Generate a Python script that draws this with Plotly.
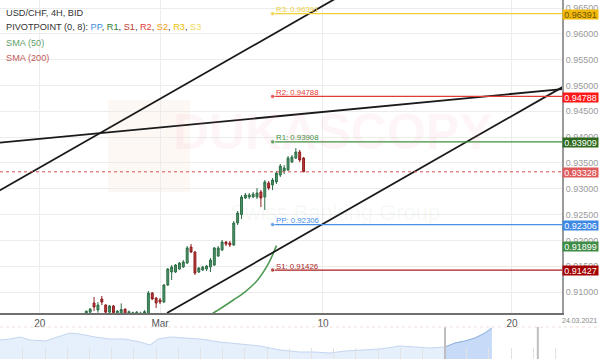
import plotly.graph_objects as go

# ---------------- data ----------------
# 4H candles, index = bar number since Mon 22 Feb 2021 00:00 (6 bars per trading day)
bar_idx = list(range(11, 68))
opens = [0.9058, 0.9061, 0.90787, 0.90652, 0.90865, 0.9075, 0.9061, 0.9073, 0.9060, 0.9058,
         0.9067, 0.9057, 0.9056, 0.9055, 0.9055, 0.9058, 0.9050, 0.90981, 0.90884, 0.90846,
         0.90807, 0.91136, 0.91388, 0.91388, 0.91446, 0.91485, 0.91562, 0.91872, 0.91775, 0.91388,
         0.91427, 0.91446, 0.91485, 0.91523, 0.91698, 0.91814, 0.91969, 0.91949, 0.91911, 0.92337,
         0.92500, 0.92821, 0.92840, 0.92840, 0.92840, 0.92937, 0.92840, 0.93111, 0.93073, 0.93131,
         0.93266, 0.93344, 0.93363, 0.93518, 0.93595, 0.93712, 0.93595]
highs = [0.9064, 0.9069, 0.90904, 0.90807, 0.90923, 0.9076, 0.9075, 0.9075, 0.9065, 0.9078,
         0.9068, 0.9064, 0.9062, 0.9063, 0.9062, 0.9065, 0.91020, 0.91000, 0.90904, 0.90884,
         0.91155, 0.91465, 0.91523, 0.91543, 0.91582, 0.91620, 0.91891, 0.91930, 0.91795, 0.91485,
         0.91504, 0.91523, 0.91659, 0.91872, 0.91891, 0.92007, 0.91988, 0.91988, 0.92375, 0.92569,
         0.92879, 0.92918, 0.92918, 0.92937, 0.93014, 0.92976, 0.93169, 0.93150, 0.93208, 0.93344,
         0.93479, 0.93460, 0.93634, 0.93653, 0.93789, 0.93750, 0.93615]
lows = [0.9055, 0.9058, 0.9063, 0.9060, 0.90748, 0.9058, 0.9058, 0.9058, 0.9057, 0.9055,
        0.9050, 0.9052, 0.9051, 0.9050, 0.9050, 0.9050, 0.9045, 0.90846, 0.90691, 0.90768,
        0.90787, 0.91117, 0.91233, 0.91368, 0.91427, 0.91465, 0.91543, 0.91756, 0.91330, 0.91368,
        0.91407, 0.91407, 0.91388, 0.91504, 0.91678, 0.91795, 0.91891, 0.91872, 0.91891, 0.92298,
        0.92414, 0.92801, 0.92801, 0.92821, 0.92801, 0.92646, 0.92589, 0.92976, 0.92976, 0.93092,
        0.93227, 0.93285, 0.93344, 0.93499, 0.93576, 0.93518, 0.93328]
closes = [0.9063, 0.9067, 0.90710, 0.90748, 0.90807, 0.9061, 0.9073, 0.9060, 0.9063, 0.9066,
          0.9055, 0.9062, 0.9060, 0.9061, 0.9059, 0.9062, 0.90981, 0.90865, 0.90787, 0.90807,
          0.91136, 0.91446, 0.91485, 0.91523, 0.91562, 0.91582, 0.91853, 0.91775, 0.91368, 0.91465,
          0.91485, 0.91504, 0.91620, 0.91853, 0.91853, 0.91969, 0.91930, 0.91911, 0.92337, 0.92530,
          0.92840, 0.92879, 0.92879, 0.92898, 0.92918, 0.92821, 0.93131, 0.93014, 0.93169, 0.93305,
          0.93440, 0.93402, 0.93595, 0.93615, 0.93712, 0.93557, 0.93328]

# SMA(50)
sma_idx = [43, 46, 49, 52, 55, 58, 60]
sma50 = [0.90560, 0.90700, 0.90850, 0.91010, 0.91220, 0.91560, 0.91899]

# Pivot points (start bar and levels)
pivot_start = 59
pivot_names = ["R3", "R2", "R1", "PP", "S1"]
pivot_vals = [0.96391, 0.94788, 0.93908, 0.92306, 0.91426]
pivot_colors = ["#f0cf3c", "#e53935", "#3f8f3f", "#4a8fe6", "#a81c1c"]

# Trend lines (two anchor points each: bar index, price)
trend_x = [[-12, 80], [-12, 134], [31.8, 134]]
trend_y = [[0.92937, 0.96887], [0.93886, 0.94932], [0.90594, 0.94980]]

# Price-axis tags
tag_vals = [0.96391, 0.94788, 0.93909, 0.93328, 0.92306, 0.91899, 0.91427]
tag_text = ["0.96391", "0.94788", "0.93909", "0.93328", "0.92306", "0.91899", "0.91427"]
tag_bg = ["#f2b90a", "#ff1a1a", "#2f6a1f", "#de5b5b", "#3d88e3", "#3f8c46", "#a30000"]
tag_fg = ["#6b5400", "white", "white", "white", "white", "white", "white"]

# x ticks
xtick_vals = [-1, 30, 72, 120.7]
xtick_text = ["20", "Mar", "10", "20"]

# navigator (weeks since start, price)
nav_x = [0, 0.45, 0.9, 1.35, 2.03, 2.7, 3.15, 3.6, 4.28, 4.95, 5.63, 6.31, 6.76, 7.12,
         7.66, 8.33, 9.01, 9.91, 10.81, 11.71, 12.61, 13.51, 14.19, 14.86, 15.54, 16.22,
         17.12, 18.02, 18.69, 19.37, 20.05, 20.5, 20.95, 21.4, 21.85, 22.16]
nav_y = [0.912, 0.914, 0.918, 0.912, 0.910, 0.920, 0.926, 0.924, 0.918, 0.914, 0.914, 0.908,
         0.902, 0.914, 0.918, 0.916, 0.914, 0.908, 0.904, 0.900, 0.892, 0.888, 0.888, 0.886,
         0.890, 0.892, 0.894, 0.900, 0.898, 0.896, 0.898, 0.906, 0.910, 0.916, 0.926, 0.936]
nav_sel = [20.05, 24.23]

# ---------------- figure ----------------
X0, X1 = -11.24, 133.6
Y0, Y1 = 0.90594, 0.96655
H = 359
main_dom = [1 - 313 / H, 1]
nav_dom = [0, 32 / H]

fig = go.Figure()

fig.add_trace(go.Candlestick(
    x=bar_idx, open=opens, high=highs, low=lows, close=closes,
    increasing=dict(line=dict(color="#2f6e47", width=1), fillcolor="#4a9468"),
    decreasing=dict(line=dict(color="#8f1f1f", width=1), fillcolor="#b83a3a"),
    whiskerwidth=0, hoverinfo="skip", xaxis="x", yaxis="y"))

fig.add_trace(go.Scatter(x=sma_idx, y=sma50, mode="lines", line=dict(color="#4f9a55", width=1.6),
                         line_shape="spline", hoverinfo="skip"))

for tx, ty in zip(trend_x, trend_y):
    fig.add_trace(go.Scatter(x=tx, y=ty, mode="lines", line=dict(color="#1a1a1a", width=1.8),
                             hoverinfo="skip"))

for name, v, col in zip(pivot_names, pivot_vals, pivot_colors):
    fig.add_trace(go.Scatter(x=[pivot_start, X1 + 5], y=[v, v], mode="lines+markers",
                             line=dict(color=col, width=1.2),
                             marker=dict(size=[4.5, 0], color=col), hoverinfo="skip"))
    fig.add_annotation(x=pivot_start, y=v, xref="x", yref="y", text=f"{name}: {v:.5f}",
                       showarrow=False, xanchor="left", yanchor="middle", yshift=4, xshift=1,
                       font=dict(size=7.8, color=col))

# current price dashed line
fig.add_shape(type="line", xref="paper", yref="y", x0=0, x1=1, y0=closes[-1], y1=closes[-1],
              line=dict(color="#d9534f", width=1, dash="dot"))

# navigator
fig.add_trace(go.Scatter(x=nav_x, y=nav_y, mode="lines", fill="tozeroy",
                         line=dict(color="#c3d6ef", width=1), fillcolor="rgba(214,229,250,0.6)",
                         xaxis="x2", yaxis="y2", hoverinfo="skip"))
sel_x = [a for a in nav_x if a >= nav_sel[0]]
sel_y = [b for a, b in zip(nav_x, nav_y) if a >= nav_sel[0]]
fig.add_trace(go.Scatter(x=sel_x, y=sel_y, mode="lines", fill="tozeroy",
                         line=dict(color="#8fb2e0", width=1), fillcolor="rgba(185,210,245,0.7)",
                         xaxis="x2", yaxis="y2", hoverinfo="skip"))
for sx in nav_sel:
    fig.add_shape(type="line", xref="x2", yref="paper", x0=sx, x1=sx, y0=nav_dom[0], y1=nav_dom[1],
                  line=dict(color="#bdbdbd", width=2))
fig.add_shape(type="line", xref="paper", yref="paper", x0=0, x1=1.07, y0=nav_dom[1], y1=nav_dom[1],
              line=dict(color="#f3dede", width=1, dash="dot"))

# watermark
fig.add_shape(type="rect", xref="paper", yref="paper", x0=108 / 562, x1=190 / 562,
              y0=1 - 192 / H, y1=1 - 100 / H, fillcolor="rgba(250,190,160,0.10)",
              line=dict(width=0), layer="below")
fig.add_annotation(xref="paper", yref="paper", x=332 / 562, y=1 - 132 / H, text="<b>DUKASCOPY</b>",
                   showarrow=False, font=dict(size=50, color="rgba(225,120,150,0.075)"))
fig.add_annotation(xref="paper", yref="paper", x=335 / 562, y=1 - 212 / H, text="Swiss Banking Group",
                   showarrow=False, font=dict(size=22, color="rgba(120,160,120,0.07)"))

# price tags on axis
for v, t, bg, fg in zip(tag_vals, tag_text, tag_bg, tag_fg):
    fig.add_annotation(xref="paper", yref="y", x=1, y=v, text=t, showarrow=False,
                       xanchor="left", yanchor="middle", yshift=-1, bgcolor=bg, width=35, height=9,
                       borderpad=0, font=dict(size=9, color=fg))

# header text
fig.add_annotation(xref="paper", yref="paper", x=4 / 562, y=1 - 12.5 / H, xanchor="left",
                   yanchor="middle", showarrow=False, text="USD/CHF, 4H, BID",
                   font=dict(size=9.2, color="#333333"))
piv_txt = ("PIVOTPOINT (0, 8): <span style='color:#3b8de0'>PP</span>, "
           "<span style='color:#2e7d32'>R1</span>, <span style='color:#c0392b'>S1</span>, "
           "<span style='color:#e53935'>R2</span>, <span style='color:#f39c12'>S2</span>, "
           "<span style='color:#e8c100'>R3</span>, <span style='color:#f2dc60'>S3</span>")
fig.add_annotation(xref="paper", yref="paper", x=4 / 562, y=1 - 27 / H, xanchor="left",
                   yanchor="middle", showarrow=False, text=piv_txt,
                   font=dict(size=9.2, color="#333333"))
fig.add_annotation(xref="paper", yref="paper", x=4 / 562, y=1 - 43 / H, xanchor="left",
                   yanchor="middle", showarrow=False, text="SMA (50)",
                   font=dict(size=9.2, color="#5f9f6a"))
fig.add_annotation(xref="paper", yref="paper", x=4 / 562, y=1 - 58.5 / H, xanchor="left",
                   yanchor="middle", showarrow=False, text="SMA (200)",
                   font=dict(size=9.2, color="#c25a5a"))
fig.add_annotation(xref="paper", yref="paper", x=599 / 562, y=1 - 320 / H, xanchor="right",
                   yanchor="middle", showarrow=False, text="24.03.2021",
                   font=dict(size=7, color="#888888"))

fig.update_layout(
    width=600, height=H, margin=dict(l=0, r=38, t=0, b=0),
    paper_bgcolor="white", plot_bgcolor="white", showlegend=False,
    font=dict(family="Arial, Liberation Sans, sans-serif"),
    xaxis=dict(domain=[0, 1], anchor="y", range=[X0, X1], tickvals=xtick_vals, ticktext=xtick_text,
               showgrid=True, gridcolor="#ececec", gridwidth=1, zeroline=False,
               showline=True, linecolor="#6f6f6f", linewidth=1.5, ticks="",
               tickfont=dict(size=10, color="#555555"), rangeslider=dict(visible=False)),
    yaxis=dict(domain=main_dom, anchor="x", range=[Y0, Y1], side="right", tick0=0.91, dtick=0.005,
               tickformat=".5f", showgrid=True, gridcolor="#ececec", zeroline=False,
               showline=True, linecolor="#9a9a9a", linewidth=2, ticks="",
               tickfont=dict(size=9, color="#9a9a9a")),
    xaxis2=dict(domain=[0, 1], anchor="y2", range=[0, 25.32], showgrid=False, zeroline=False,
                showticklabels=False, ticks="inside", tick0=0.03, dtick=1, ticklen=11,
                tickcolor="#e2e2e2", showline=False),
    yaxis2=dict(domain=nav_dom, anchor="x2", range=[0.874, 0.938], visible=False),
)

fig.write_html("out.html")
